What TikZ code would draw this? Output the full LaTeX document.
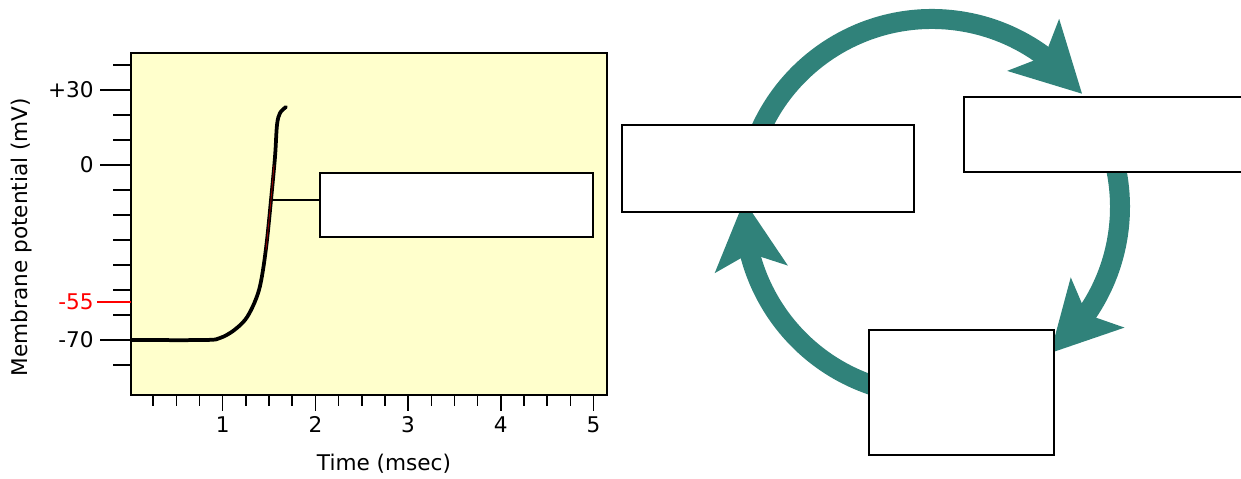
\documentclass[tikz,border=0pt]{standalone}
\usepackage{fontspec}
\setmainfont{DejaVu Sans}
\usetikzlibrary{arrows.meta,bending}
\definecolor{plotbg}{RGB}{255,255,204}
\definecolor{cyclegreen}{RGB}{48,130,122}

\begin{document}
\begin{tikzpicture}[x=0.02cm,y=-0.02cm,
        blank/.style={rectangle,draw=black,fill=white,line width=0.04cm,inner sep=0pt},
        cyc/.style={draw=cyclegreen,line width=0.4cm,-{Stealth[length=1.36cm,width=1.42cm,inset=0.3cm,flex]}},
        lbl/.style={font=\fontsize{12.3}{14}\selectfont,inner sep=0pt},
        tk/.style={line width=0.03cm}]
        \useasboundingbox (0,0) rectangle (1241,479);
        \draw[fill=plotbg,line width=0.03cm] (131,53) rectangle (607,395);
        \foreach \v in {40,30,...,-80}
            \draw[tk] (113,{165-2.5*\v}) -- (131,{165-2.5*\v});
        \draw[tk] (100,90) -- (131,90);
        \draw[tk] (100,165) -- (131,165);
        \draw[tk] (100,340) -- (131,340);
        \draw[tk,red] (97,302) -- (131,302);
        \node[lbl,anchor=east] (vp30) at (94,90) {+30};
        \node[lbl,anchor=east] (v0) at (94,165) {0};
        \node[lbl,anchor=east,text=red] (vm55) at (94,302) {-55};
        \node[lbl,anchor=east] (vm70) at (94,340) {-70};
        \foreach \i in {1,...,20}
            \draw[tk] ({130+23.175*\i},395) -- ++(0,11);
        \foreach \t in {1,...,5} {
            \draw[tk] ({130+92.7*\t},395) -- ++(0,16);
            \node[lbl,anchor=north] (t\t) at ({130+92.7*\t},416) {\t};
        }
        \node[lbl,anchor=base] (xlabel) at (384,471) {Time (msec)};
        \node[lbl,anchor=base,rotate=90] (ylabel) at (28,237) {Membrane potential (mV)};
        \draw[line width=0.075cm,line cap=round] plot[smooth,tension=0.55] coordinates {(131,340) (205,340) (220,338) (233,331) (245,320) (253,306) (259,290) (263,270) (267,240) (271,200) (275,157) (277,125) (280,113) (286,107)};
        \draw[red!60!black,line width=0.015cm] plot[smooth,tension=0.55] coordinates {(266,250) (267,240) (271,200) (274,165)};
        \node[blank,minimum width=5.46cm,minimum height=1.28cm] (blank1) at (456.5,205) {};
        \coordinate (spike) at (272,200);
        \draw[tk] (spike) -- (spike -| blank1.west);
        \coordinate (hub) at (932,207);
        \draw[cyc] (hub) ++(-170:188) arc[start angle=-170,end angle=-37,radius=188];
        \draw[cyc] (hub) ++(-20:188) arc[start angle=-20,end angle=51,radius=188];
        \draw[cyc] (hub) ++(105:188) arc[start angle=105,end angle=182,radius=188];
        \node[blank,minimum width=5.84cm,minimum height=1.74cm] (blank2) at (768,168.5) {};
        \node[blank,minimum width=5.72cm,minimum height=1.5cm] (blank3) at (1107,134.5) {};
        \node[blank,minimum width=3.7cm,minimum height=2.5cm] (blank4) at (961.5,392.5) {};
    \end{tikzpicture}
\end{document}
